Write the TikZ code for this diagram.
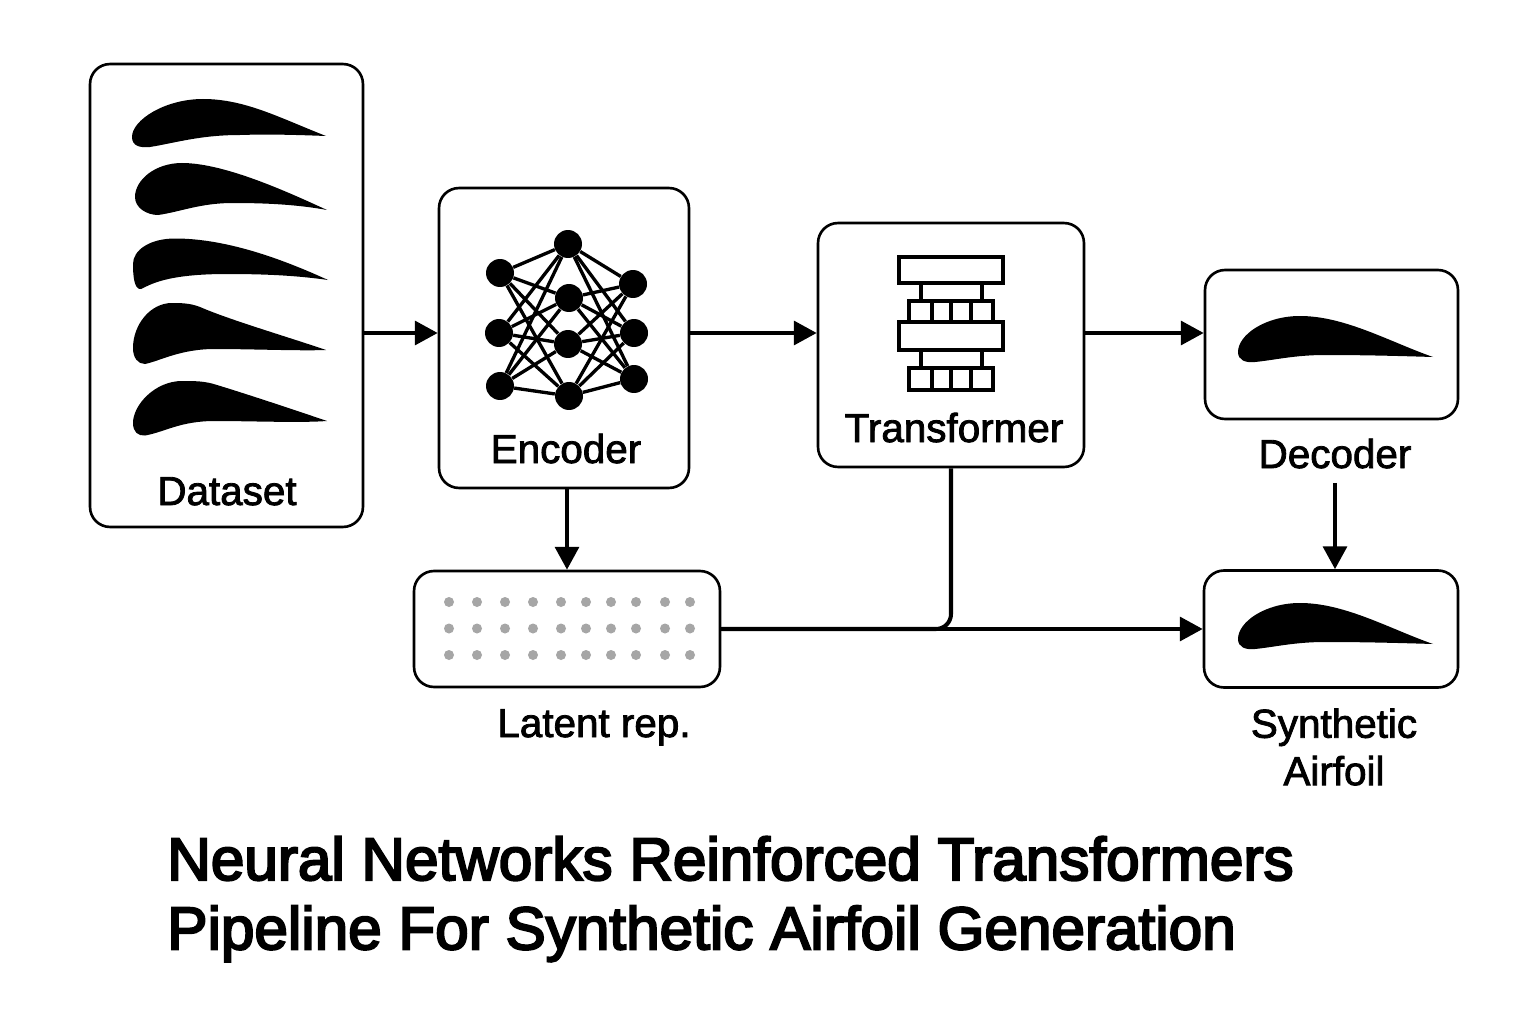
\documentclass[tikz,border=0pt]{standalone}
\usepackage{fontspec}
\setmainfont{Liberation Sans}
\newfontfamily\labelfont[FakeBold=2]{Liberation Sans}
\newfontfamily\titlefont[FakeBold=3.5]{Liberation Sans}
\usetikzlibrary{arrows.meta}
\tikzset{
  panel/.style={draw=black,line width=1.5pt,rounded corners=0.4cm,inner sep=0pt,fill=white},
  flow/.style={draw=black,line width=2.3pt},
  flowarrow/.style={flow,-{Triangle[length=13pt,width=13.5pt]}},
  caption/.style={font=\labelfont\fontsize{23}{27}\selectfont,inner sep=8pt,anchor=base},
  headline/.style={font=\titlefont\fontsize{34.3}{39.4}\selectfont,align=left,inner sep=0pt},
  foil/.style={fill=black,draw=none},
  neuron/.style={circle,fill=black,minimum size=0.56cm,inner sep=0pt},
  wire/.style={draw=black,line width=1.9pt},
  block/.style={draw=black,line width=1.9pt,fill=white},
  latentdot/.style={circle,fill=black!35,minimum size=0.2cm,inner sep=0pt}
}
\begin{document}
\begin{tikzpicture}[x=0.02cm,y=-0.02cm]
\useasboundingbox (0,0) rectangle (1536,1024);
\coordinate (midline) at (0,333);
\node [panel,minimum width=5.46cm,minimum height=9.26cm] (dataset) at (226.5,295.5) {};
\node [panel,minimum width=5cm,minimum height=6cm] (encoder) at (564,338) {};
\node [panel,minimum width=5.32cm,minimum height=4.88cm] (transformer) at (951,345) {};
\node [panel,minimum width=5.06cm,minimum height=2.98cm] (decoder) at (1331.5,344.5) {};
\node [panel,minimum width=6.12cm,minimum height=2.32cm] (latent) at (567,629) {};
\node [panel,minimum width=5.08cm,minimum height=2.34cm] (synthetic) at (1331,629) {};
\fill [foil] (326,136) .. controls (280,118) and (245,99) .. (203,99) .. controls (165,99) and (132,120) .. (132,137) .. controls (132,146) and (140,148) .. (150,147) .. controls (175,143) and (200,135) .. (240,135) .. controls (270,134) and (300,135) .. (326,136);
\fill [foil] (327,210) .. controls (290,193) and (225,163) .. (182,163) .. controls (155,163) and (135,180) .. (135,197) .. controls (135,208) and (147,215) .. (158,215) .. controls (180,212) and (200,203) .. (233,203) .. controls (270,203) and (300,205) .. (327,210);
\fill [foil] (328,280) .. controls (280,258) and (225,238.5) .. (175,238.5) .. controls (150,238.5) and (133,250) .. (133,264) .. controls (133,275) and (134,290) .. (141,289) .. controls (150,285) and (165,274) .. (227,274) .. controls (270,274) and (300,276) .. (328,280);
\fill [foil] (326,350) .. controls (285,336) and (230,320) .. (200,307) .. controls (190,303) and (180,303) .. (172,303) .. controls (150,303) and (133,325) .. (133,348) .. controls (133,358) and (138,364) .. (145,364) .. controls (160,361) and (180,349) .. (215,349) .. controls (250,349) and (300,351) .. (326,350);
\fill [foil] (327,421) .. controls (280,405) and (240,392) .. (217,385) .. controls (205,381) and (195,381) .. (182,381) .. controls (155,381) and (133,405) .. (133,423) .. controls (133,432) and (138,436) .. (145,435.5) .. controls (165,432) and (180,421) .. (215,421) .. controls (250,421) and (300,423) .. (327,421);
\foreach \shifty in {0,287} {
\fill [foil,yshift=-\shifty*0.02cm] (1433,357) .. controls (1390,342) and (1345,316) .. (1300,316) .. controls (1265,316) and (1238,335) .. (1238,352) .. controls (1238,360) and (1245,363) .. (1255,362) .. controls (1275,360) and (1295,355) .. (1325,355) .. controls (1365,355) and (1400,356) .. (1433,357);
}
\foreach \name/\xpos/\ypos in {a1/500/273,a2/499/333,a3/500/386,b1/568/244,b2/569/298,b3/568/344,b4/569/396,c1/633/284,c2/634/333,c3/634/379} {
\node [neuron] (\name) at (\xpos,\ypos) {};
}
\foreach \from in {a1,a2,a3} {
\foreach \to in {b1,b2,b3,b4} {
\draw [wire] (\from) -- (\to);
}
}
\foreach \from in {b1,b2,b3,b4} {
\foreach \to in {c1,c2,c3} {
\draw [wire] (\from) -- (\to);
}
}
\draw [wire] (921,283) -- (921,301);
\draw [wire] (982,283) -- (982,301);
\draw [wire] (921,350) -- (921,368);
\draw [wire] (982,350) -- (982,368);
\draw [block] (899,257) rectangle (1003,283);
\draw [block] (909,301) rectangle (993,322);
\draw [wire] (932,301) -- (932,322);
\draw [wire] (951,301) -- (951,322);
\draw [wire] (971,301) -- (971,322);
\draw [block] (899,322) rectangle (1003,350);
\draw [block] (909,368) rectangle (993,390);
\draw [wire] (932,368) -- (932,390);
\draw [wire] (951,368) -- (951,390);
\draw [wire] (971,368) -- (971,390);
\foreach \ypos in {602,628.5,655} {
\foreach \xpos in {449,477,505,533,561,586,611,636,665,690} {
\node [latentdot] at (\xpos,\ypos) {};
}
}
\node [caption] (datasetlabel) at (227,505) {Dataset};
\node [caption] (encoderlabel) at (566,463) {Encoder};
\node [caption] (transformerlabel) at (954,442) {Transformer};
\node [caption] (decoderlabel) at (1335,468) {Decoder};
\node [caption] (latentlabel) at (594,737) {Latent rep.};
\node [caption,anchor=center,align=center] (syntheticlabel) at (1334,747) {Synthetic\\Airfoil};
\node [headline,anchor=north west] (title) at (167,836) {Neural Networks Reinforced Transformers\\Pipeline For Synthetic Airfoil Generation};
\draw [flowarrow] (dataset.east |- midline) -- (encoder.west |- midline);
\draw [flowarrow] (encoder.east |- midline) -- (transformer.west |- midline);
\draw [flowarrow] (transformer.east |- midline) -- (decoder.west |- midline);
\draw [flowarrow] (encoder.south -| latent.north) -- (latent.north);
\draw [flowarrow] (decoderlabel.south) -- (synthetic.north -| decoderlabel.south);
\draw [flowarrow] (latent.east) -- (synthetic.west);
\draw [flow,rounded corners=0.3cm] (transformer.south) |- (latent.east);
\end{tikzpicture}
\end{document}
